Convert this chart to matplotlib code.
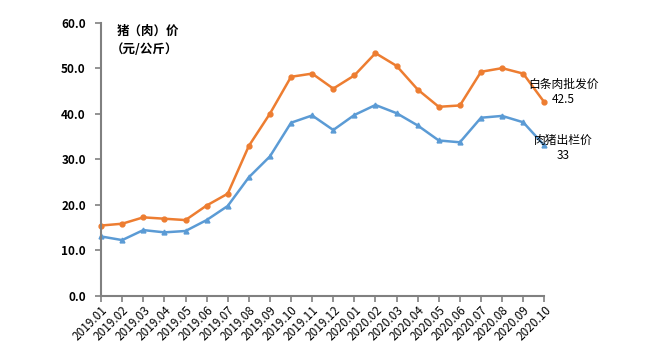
import numpy as np
import matplotlib
matplotlib.use("Agg")
import matplotlib.pyplot as plt

plt.rcParams['font.family'] = ['Noto Sans CJK SC', 'DejaVu Sans']

# 月份
months = ['2019.01', '2019.02', '2019.03', '2019.04', '2019.05', '2019.06',
          '2019.07', '2019.08', '2019.09', '2019.10', '2019.11', '2019.12',
          '2020.01', '2020.02', '2020.03', '2020.04', '2020.05', '2020.06',
          '2020.07', '2020.08', '2020.09', '2020.10']
# 白条肉批发价
baitiao = [15.4, 15.8, 17.2, 16.9, 16.6, 19.8, 22.4, 32.9, 40.0, 48.1, 48.8,
           45.5, 48.4, 53.3, 50.5, 45.3, 41.5, 41.8, 49.2, 50.0, 48.8, 42.5]
# 肉猪出栏价
chulan = [13.0, 12.2, 14.4, 13.9, 14.2, 16.6, 19.7, 26.0, 30.6, 38.0, 39.6,
          36.4, 39.7, 41.9, 40.1, 37.4, 34.1, 33.7, 39.1, 39.5, 38.1, 33.0]
yticks = [0, 10, 20, 30, 40, 50, 60]

fig = plt.figure(figsize=(6.48, 3.54), dpi=100)
ax = fig.add_axes([0.156, 0.165, 0.684, 0.771])

x = np.arange(len(months))
ax.plot(x, baitiao, color='#ED7D31', lw=1.8, marker='o', ms=3.5, clip_on=False)
ax.plot(x, chulan, color='#5B9BD5', lw=1.8, marker='^', ms=3.5, clip_on=False)

ax.set_xlim(0, len(months) - 1)
ax.set_ylim(0, 60)
ax.set_xticks(x)
ax.set_xticklabels(months, rotation=45, ha='right', rotation_mode='anchor', fontsize=8.5)
ax.set_yticks(yticks)
ax.set_yticklabels(['%.1f' % v for v in yticks], fontsize=8.5, fontweight='bold')

for s in ['top', 'right']:
    ax.spines[s].set_visible(False)
for s in ['left', 'bottom']:
    ax.spines[s].set_color('#808080')
    ax.spines[s].set_linewidth(1.5)
ax.tick_params(axis='both', color='#808080', width=1.2, length=4)
ax.tick_params(axis='y', pad=7)
ax.tick_params(axis='x', pad=2)

ax.text(0.035, 0.97, '猪（肉）价', transform=ax.transAxes, fontsize=9,
        fontweight='bold', va='center')
ax.text(0.022, 0.9, '（元/公斤）', transform=ax.transAxes, fontsize=9,
        fontweight='bold', va='center')

ax.text(21.9, baitiao[-1] + 4.0, '白条肉批发价', fontsize=8.5, ha='center', va='center')
ax.text(21.9, baitiao[-1] + 0.5, '%.1f' % baitiao[-1], fontsize=8.5, ha='center', va='center')
ax.text(21.9, chulan[-1] + 1.2, '肉猪出栏价', fontsize=8.5, ha='center', va='center')
ax.text(21.9, chulan[-1] - 2.3, '%d' % chulan[-1], fontsize=8.5, ha='center', va='center')

fig.savefig('out.png', dpi=100)
